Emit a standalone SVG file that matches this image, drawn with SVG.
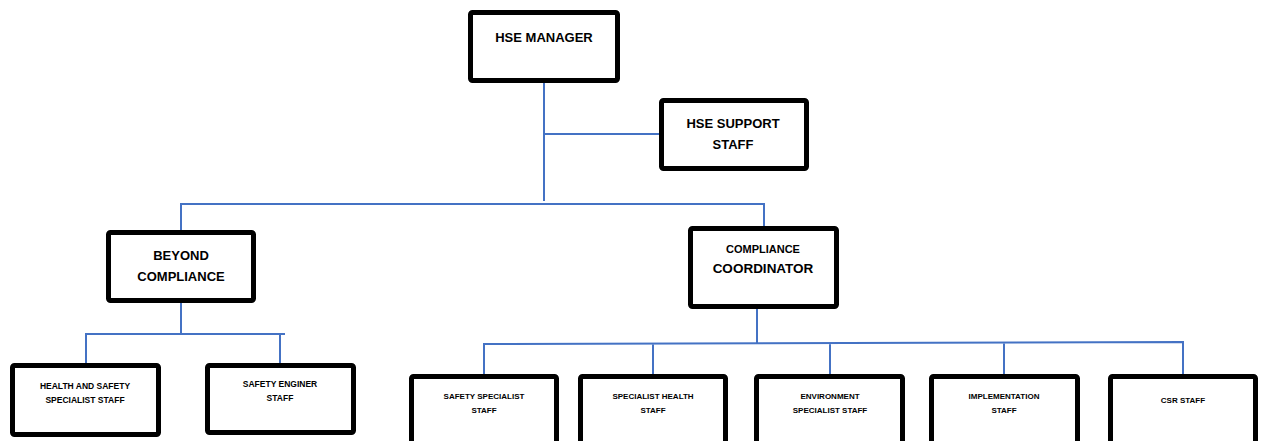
<svg xmlns="http://www.w3.org/2000/svg" width="1262" height="441" viewBox="0 0 1262 441">
<style>
.box{fill:#fff;stroke:#000;stroke-width:5}
.c{fill:none;stroke:#4472C4;stroke-width:2}
text{font-family:"Liberation Sans",Arial,sans-serif;font-weight:bold;fill:#000;text-anchor:middle}
.l{font-size:13px}
.s{font-size:8.5px}
.xs{font-size:8px}
</style>
<rect width="1262" height="441" fill="#fff"/>
<g id="connectors">
<path class="c" d="M544 83V201M544 134H660M181 204H764M181 203V232M764 203V226"/>
<path class="c" d="M181 303V334M86 334H285M86 333V365M280 333V365"/>
<path class="c" d="M757 309V343M484 344L1184 342M484 343V375M653 343V375M830 343V375M1004 343V375M1183 342V375"/>
</g>
<g id="hse-manager"><rect class="box" x="470.5" y="12.5" width="147" height="68" rx="2"/><text class="l" x="544" y="42">HSE MANAGER</text></g>
<g id="hse-support"><rect class="box" x="661.5" y="100.5" width="145" height="68" rx="2"/><text class="l" x="733" y="128">HSE SUPPORT</text><text class="l" x="733" y="149">STAFF</text></g>
<g id="beyond"><rect class="box" x="108.5" y="232.5" width="145" height="68" rx="2"/><text class="l" x="181" y="260">BEYOND</text><text class="l" x="181" y="281">COMPLIANCE</text></g>
<g id="compliance"><rect class="box" x="690.5" y="228.5" width="146" height="78" rx="2"/><text x="763" y="253" font-size="11">COMPLIANCE</text><text x="763" y="273" font-size="13.5">COORDINATOR</text></g>
<g id="health-safety"><rect class="box" x="12.5" y="365.5" width="146" height="69" rx="2"/><text class="s" x="85" y="389">HEALTH AND SAFETY</text><text class="s" x="85" y="403">SPECIALIST STAFF</text></g>
<g id="safety-enginer"><rect class="box" x="207.5" y="365.5" width="146" height="67" rx="2"/><text class="s" x="280" y="387">SAFETY ENGINER</text><text class="s" x="280" y="401">STAFF</text></g>
<g id="safety-specialist"><rect class="box" x="411.5" y="376.5" width="145" height="80" rx="2"/><text class="xs" x="484" y="399">SAFETY SPECIALIST</text><text class="xs" x="484" y="413">STAFF</text></g>
<g id="specialist-health"><rect class="box" x="580.5" y="376.5" width="145" height="80" rx="2"/><text class="xs" x="653" y="399">SPECIALIST HEALTH</text><text class="xs" x="653" y="413">STAFF</text></g>
<g id="environment"><rect class="box" x="756.5" y="376.5" width="146" height="80" rx="2"/><text class="xs" x="830" y="399">ENVIRONMENT</text><text class="xs" x="830" y="413">SPECIALIST STAFF</text></g>
<g id="implementation"><rect class="box" x="931.5" y="376.5" width="146" height="80" rx="2"/><text class="xs" x="1004" y="399">IMPLEMENTATION</text><text class="xs" x="1004" y="413">STAFF</text></g>
<g id="csr"><rect class="box" x="1110.5" y="376.5" width="145" height="80" rx="2"/><text class="xs" x="1183" y="403">CSR STAFF</text></g>
</svg>
